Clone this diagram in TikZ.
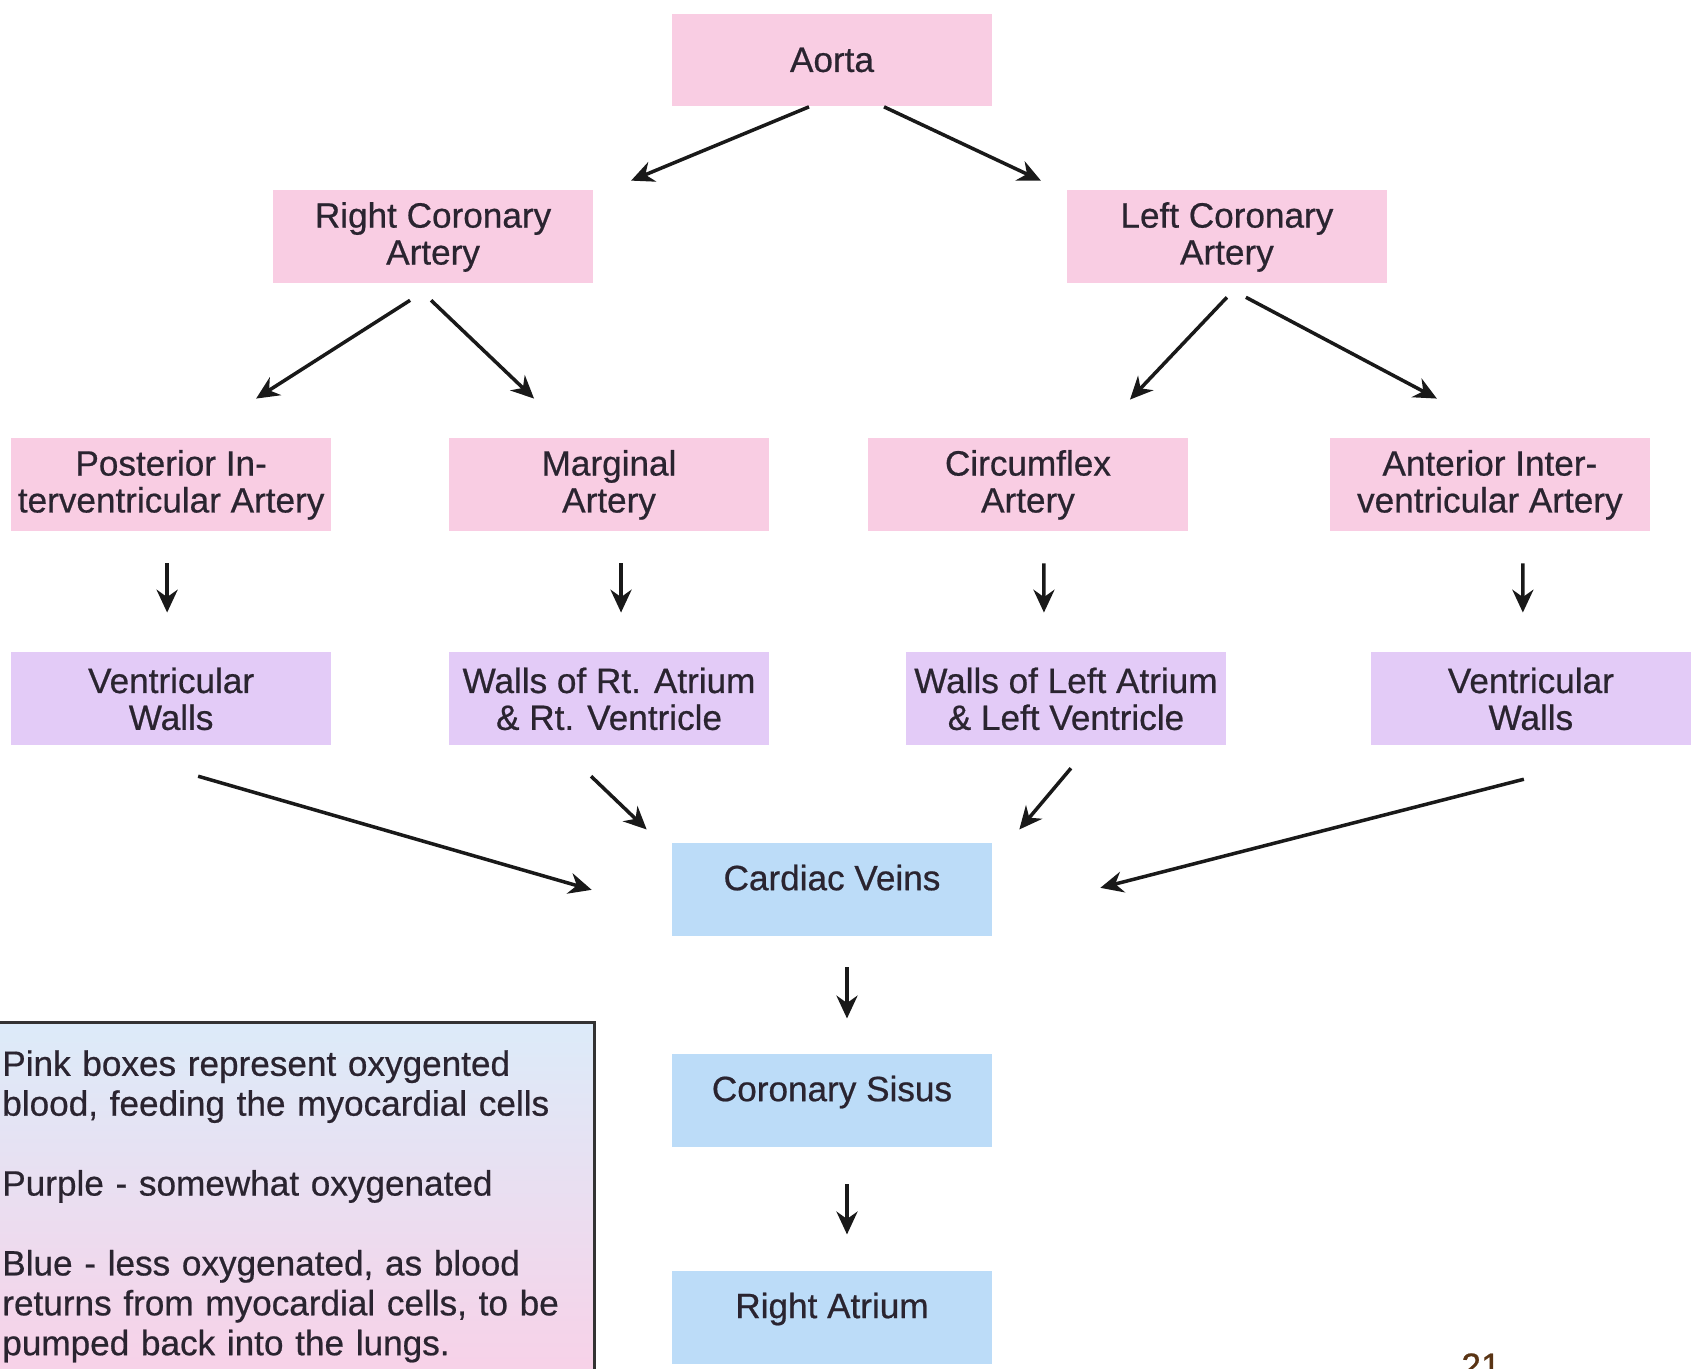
\documentclass[tikz,border=0pt]{standalone}
\usepackage{fontspec}
\setmainfont[FakeBold=0.6]{Liberation Sans}
\usetikzlibrary{arrows.meta,calc}
\definecolor{pinkbox}{HTML}{F9CDE3}
\definecolor{purplebox}{HTML}{E3CBF7}
\definecolor{bluebox}{HTML}{BCDCF8}
\definecolor{inktext}{HTML}{2A2430}
\definecolor{legendtop}{HTML}{DCEBF9}
\definecolor{legendbottom}{HTML}{F9D0E7}
\definecolor{pagebrown}{HTML}{5A3414}
\tikzstyle{artery} = [rectangle, minimum width=6.4cm, minimum height=1.86cm, inner xsep=2pt, align=center, fill=pinkbox, text=inktext, font=\fontsize{20}{21}\selectfont]
\tikzstyle{wall} = [artery, fill=purplebox]
\tikzstyle{vein} = [artery, fill=bluebox, text height=15pt, text depth=14.6pt]
\tikzstyle{legendbox} = [rectangle, draw=black!80, line width=1.5pt, top color=legendtop, bottom color=legendbottom, text width=11.7cm, inner xsep=0.14cm, inner ysep=0.56cm, align=left, anchor=north west, text=inktext, font=\fontsize{20}{22.7}\selectfont]
\tikzstyle{arrow} = [line width=2pt, draw=black!90, -{Stealth[length=13pt,width=12pt]}]

\begin{document}
\begin{tikzpicture}[x=0.02cm, y=-0.02cm, node distance=3.54cm]
\useasboundingbox (0,0) rectangle (1691,1369);
\clip (0,0) rectangle (1691,1369);

\node (aorta) [artery] at (832,60) {Aorta};
\node (rca) [artery, below of=aorta, xshift=-7.98cm] {Right Coronary\\Artery};
\node (lca) [artery, below of=aorta, xshift=7.9cm] {Left Coronary\\Artery};

\node (pia) [artery, below of=rca, xshift=-5.24cm, yshift=-1.42cm] {Posterior In-\\terventricular Artery};
\node (mar) [artery, below of=rca, xshift=3.52cm, yshift=-1.42cm] {Marginal\\Artery};
\node (cfx) [artery, below of=lca, xshift=-3.98cm, yshift=-1.42cm] {Circumflex\\Artery};
\node (aia) [artery, below of=lca, xshift=5.26cm, yshift=-1.42cm] {Anterior Inter-\\ventricular Artery};

\node (vwl) [wall, below of=pia, yshift=-0.74cm] {Ventricular\\Walls};
\node (wra) [wall, below of=mar, yshift=-0.74cm] {Walls of Rt. Atrium\\\& Rt. Ventricle};
\node (wla) [wall, below of=cfx, xshift=0.76cm, yshift=-0.74cm] {Walls of Left Atrium\\\& Left Ventricle};
\node (vwr) [wall, below of=aia, xshift=0.82cm, yshift=-0.74cm] {Ventricular\\Walls};

\node (cv) [vein, below of=wra, xshift=4.46cm, yshift=-0.28cm] {Cardiac Veins};
\node (cs) [vein, below of=cv, yshift=-0.68cm] {Coronary Sisus};
\node (ra) [vein, below of=cs, yshift=-0.8cm] {Right Atrium};

\node (legend) [legendbox] at (-6,1021) {Pink boxes represent oxygented\\blood, feeding the myocardial cells\\[0.8cm]Purple - somewhat oxygenated\\[0.8cm]Blue - less oxygenated, as blood\\returns from myocardial cells, to be\\pumped back into the lungs.};
\node (pagenum) [anchor=north, inner sep=0pt, text=pagebrown, font=\fontsize{20}{24}\selectfont] at (1481,1353) {21};

\draw [arrow] ($(aorta.south)+(-23,0)$) -- ($(rca.north)+(198,-9.5)$);
\draw [arrow] ($(aorta.south)+(52,0)$) -- ($(lca.north)+(-186,-9.5)$);
\draw [arrow] ($(rca.south)+(-23,16.5)$) -- ($(pia.north)+(85,-39.5)$);
\draw [arrow] ($(rca.south)+(-2,16.5)$) -- ($(mar.north)+(-75,-39.5)$);
\draw [arrow] ($(lca.south)+(0,13.5)$) -- ($(cfx.north)+(102,-38.5)$);
\draw [arrow] ($(lca.south)+(19,13.5)$) -- ($(aia.north)+(-53,-39.5)$);

\draw [arrow] ($(pia.south)+(-4,31.5)$) -- ($(vwl.north)+(-4,-39.5)$);
\draw [arrow] ($(mar.south)+(12,31.5)$) -- ($(wra.north)+(12,-39.5)$);
\draw [arrow] ($(cfx.south)+(16,31.5)$) -- ($(wla.north)+(-22,-39.5)$);
\draw [arrow] ($(aia.south)+(33,31.5)$) -- ($(vwr.north)+(-8,-39.5)$);

\draw [arrow] ($(vwl.south)+(27,30.5)$) -- ($(cv.west)+(-80,0)$);
\draw [arrow] ($(wra.south)+(-18,30.5)$) -- ($(cv.north west)+(-25,-13.5)$);
\draw [arrow] ($(wla.south)+(5,22.5)$) -- ($(cv.north east)+(27,-13.5)$);
\draw [arrow] ($(vwr.south)+(-7,33.5)$) -- ($(cv.east)+(108,-2)$);
\draw [arrow] ($(cv.south)+(15,30.5)$) -- ($(cs.north)+(15,-35.5)$);
\draw [arrow] ($(cs.south)+(15,36.5)$) -- ($(ra.north)+(15,-36.5)$);
\end{tikzpicture}
\end{document}
